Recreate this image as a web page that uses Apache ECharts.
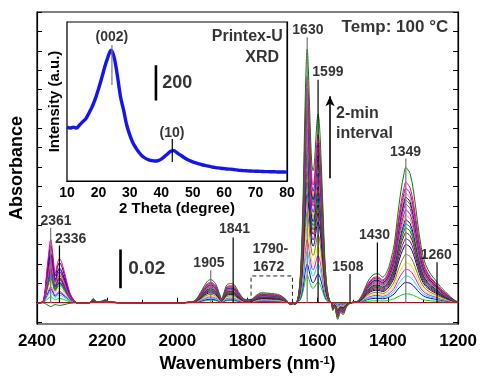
<!DOCTYPE html>
<html><head><meta charset="utf-8">
<script src="https://cdn.jsdelivr.net/npm/echarts@6/dist/echarts.min.js"></script>
<style>html,body{margin:0;padding:0;background:#fff}#c{width:480px;height:378px}</style>
</head><body><div id="c"></div>
<script>
// ---- IR spectra: normalized band shapes of the top (last) spectrum ----
const waveCO2 = [2400, 2391, 2381, 2372, 2364, 2361, 2355, 2348, 2341, 2336, 2326, 2315, 2306, 2296, 2287];
const shapeCO2 = [0, 0, 0.05, 0.5, 0.92, 1.0, 0.77, 0.47, 0.64, 0.7, 0.57, 0.33, 0.15, 0.05, 0];
const waveA = [2280, 2250, 2240, 2230, 2215, 2205, 2195, 2150, 2000, 1960, 1947, 1930, 1916, 1905, 1891, 1880, 1874, 1868, 1859, 1848, 1837, 1826, 1806, 1791, 1777, 1760, 1745, 1732, 1715, 1704, 1690, 1678, 1670, 1665, 1655, 1648, 1642, 1637, 1633, 1630, 1627, 1622, 1617, 1613, 1608, 1603, 1599, 1595, 1590, 1585, 1580, 1575, 1570, 1565];
const shapeA = [0, 0, 0.016, 0.004, 0.006, 0.012, 0.004, 0, 0, 0.003, 0.012, 0.05, 0.082, 0.091, 0.074, 0.035, 0.016, 0.035, 0.07, 0.075, 0.07, 0.043, 0.013, 0.012, 0.027, 0.039, 0.038, 0.036, 0.033, 0.027, 0.012, -0.008, -0.004, -0.008, 0.03, 0.15, 0.40, 0.72, 0.93, 1.0, 0.93, 0.72, 0.55, 0.52, 0.58, 0.70, 0.743, 0.70, 0.55, 0.37, 0.18, 0.08, 0.03, 0.005];
const waveB = [1560, 1557, 1552, 1543, 1535, 1528, 1519, 1509, 1495, 1486, 1472, 1458, 1443, 1429, 1415, 1401, 1392, 1382, 1373, 1363, 1354, 1349, 1344, 1337, 1327, 1316, 1305, 1293, 1278, 1264, 1250, 1236, 1222, 1208, 1200];
const shapeB = [0, -0.058, -0.036, -0.124, -0.073, -0.088, -0.036, -0.007, 0.007, 0.012, 0.066, 0.153, 0.204, 0.214, 0.19, 0.24, 0.314, 0.43, 0.628, 0.825, 0.956, 1.0, 0.985, 0.956, 0.825, 0.606, 0.41, 0.285, 0.21, 0.166, 0.117, 0.08, 0.044, 0.015, 0.007];
// per-spectrum band heights (absorbance), 2-min interval, first to last
const peakCO2  = [0, 0.0031, 0.0071, 0.0056, 0.0082, 0.0107, 0.0127, 0.0148, 0.0168, 0.0183, 0.0199, 0.0153, 0.0295, 0.0219, 0.0178, 0.0245, 0.0138, 0.0255, 0.0204, 0.0229, 0.0326, -0.002];
const peak1630 = [0, 0.0143, 0.0199, 0.0265, 0.0326, 0.0387, 0.0469, 0.0560, 0.0622, 0.0678, 0.0723, 0.0764, 0.0805, 0.0851, 0.0897, 0.0958, 0.0993, 0.1024, 0.1060, 0.1105, 0.1167, 0.1309];
const peak1349 = [0, 0.0046, 0.0105, 0.0138, 0.0173, 0.0207, 0.0250, 0.0301, 0.0331, 0.0362, 0.0387, 0.0408, 0.0428, 0.0453, 0.0479, 0.0509, 0.0530, 0.0545, 0.0565, 0.0591, 0.0622, 0.0698];
const specColors = ['#FF0000','#00DD00','#0000FF','#00E5FF','#FF00FF','#E8E800','#808000','#000080','#800080','#800000','#008000','#008080','#0000A0','#FF8000','#8000FF','#FF0080','#008080','#000080','#FF8000','#8000FF','#FF0080','#008000'];

// ---- peak annotations ----
const annText = ['1630','1599','1349','1430','1260','1508','1905','1841','2361','2336','1790-','1672'];
const annWave = [1628, 1571, 1350, 1438, 1262, 1514, 1910, 1837, 2346, 2304, 1735, 1740];
const annAbs  = [0.1406, 0.1192, 0.0779, 0.0346, 0.0245, 0.0183, 0.0204, 0.0377, 0.0423, 0.0326, 0.0275, 0.0183];
const markWave = [1630, 1599, 1349, 1430, 1260, 1508, 1905, 1841, 2361, 2336];
const markTop  = [0.137, 0.1151, 0.0744, 0.0311, 0.0209, 0.0148, 0.0168, 0.0336, 0.0387, 0.0295];
const markColor= ['#777','#000','#777','#000','#000','#000','#777','#000','#777','#000'];

// ---- XRD inset ----
const xrdTheta = [10,11,12,13,14,15,16,17,18,19,20,21,22,23,24,25,26,27,28,29,30,31,32,33,34,35,36,37,38,39,40,41,42,43,44,45,46,47,48,49,50,51,52,53,54,55,56,57,58,59,60,61,62,63,64,65,66,67,68,69,70,71,72,73,74,75,76,77,78,79,80];
const xrdIntensity = [306,300,305,300,317,335,352,385,420,465,520,580,645,700,740,700,600,480,402,317,260,215,185,160,140,128,120,115,113,116,124,138,153,168,172,160,148,136,125,116,108,102,97,92,88,84,80,77,74,72,70,68,67,65,63,60,59,58,57,56,55,55,54,53,53,52,52,51,51,51,50];

const xTicks = [2400, 2200, 2000, 1800, 1600, 1400, 1200];
const yTickVals = [-0.01,0,0.01,0.02,0.03,0.04,0.05,0.06,0.07,0.08,0.09,0.10,0.11,0.12,0.13,0.14,0.15];

const chart = echarts.init(document.getElementById('c'), null, {renderer:'canvas'});
const series = [];
function spectrum(k){
  const d = [];
  waveCO2.forEach((w,i)=>d.push([w, shapeCO2[i]*peakCO2[k]]));
  waveA.forEach((w,i)=>d.push([w, shapeA[i]*peak1630[k]]));
  waveB.forEach((w,i)=>d.push([w, shapeB[i]*peak1349[k]]));
  return d;
}
const order = [];
for (let k=1;k<peak1630.length;k++) order.push(k);
order.push(0);
order.forEach(k=>{
  series.push({type:'line', xAxisIndex:0, yAxisIndex:0, data:spectrum(k), showSymbol:false, symbol:'none',
    smooth:0.35, lineStyle:{color:specColors[k], width:1}, itemStyle:{color:specColors[k]}, z:2+ (k===0?1:0), animation:false});
});
markWave.forEach((w,i)=>{
  series.push({type:'line', xAxisIndex:0, yAxisIndex:0, data:[[w,0],[w,markTop[i]]], symbol:'none',
    lineStyle:{color:markColor[i], width:1.2}, z:5, animation:false});
});
// dashed box 1790-1672
series.push({type:'line', xAxisIndex:0, yAxisIndex:0, data:[[1790,0],[1790,0.0138],[1672,0.0138],[1672,0]], symbol:'none',
  lineStyle:{color:'#222', width:1, type:[4,3]}, z:5, animation:false});
// scale bar 0.02 and arrow
series.push({type:'line', xAxisIndex:0, yAxisIndex:0, data:[[2162,0.0074],[2162,0.0274]], symbol:'none',
  lineStyle:{color:'#000', width:2.6}, z:5, animation:false,
  markLine:{silent:true, symbol:['none','arrow'], symbolSize:[7,10], label:{show:false},
    lineStyle:{color:'#000', width:1.6, type:'solid'},
    data:[[{coord:[1565,0.0642]},{coord:[1565,0.1065]}]]}});
const ff = 'Liberation Sans, Arial, sans-serif';
const labFont = {fontSize:14, fontWeight:'bold', color:'#000', fontFamily:ff};
function textItem(t, w, y, extra){
  return {value:[w,y], label:Object.assign({show:true, position:'inside', formatter:t}, labFont, extra||{})};
}
const mainTexts = annText.map((t,i)=>textItem(t, annWave[i], annAbs[i]));
mainTexts.push(textItem('2-min', 1548, 0.0978, {fontSize:16, position:'right', distance:0}));
mainTexts.push(textItem('interval', 1548, 0.0871, {fontSize:16, position:'right', distance:0}));
mainTexts.push(textItem('Temp: 100 \u00B0C', 1228, 0.1421, {fontSize:17, position:'left', distance:0}));
mainTexts.push(textItem('0.02', 2140, 0.0173, {fontSize:19, position:'right', distance:0}));
series.push({type:'scatter', xAxisIndex:0, yAxisIndex:0, data:mainTexts, symbolSize:0.1, itemStyle:{color:'rgba(0,0,0,0)'}, z:6, animation:false});

// inset
series.push({type:'line', xAxisIndex:2, yAxisIndex:2, data:xrdTheta.map((t,i)=>[t,xrdIntensity[i]]), symbol:'none', smooth:0.3,
  lineStyle:{color:'#1414F0', width:3.4}, z:10, animation:false});
series.push({type:'line', xAxisIndex:2, yAxisIndex:2, data:[[24.3,543],[24.3,770]], symbol:'none', lineStyle:{color:'#777', width:1.2}, z:11, animation:false});
series.push({type:'line', xAxisIndex:2, yAxisIndex:2, data:[[43.5,108],[43.5,238]], symbol:'none', lineStyle:{color:'#000', width:1.2}, z:11, animation:false});
series.push({type:'line', xAxisIndex:2, yAxisIndex:2, data:[[38.3,455],[38.3,655]], symbol:'none', lineStyle:{color:'#000', width:2.6}, z:11, animation:false});
const insetTexts = [
  textItem('(002)', 24.3, 815),
  textItem('(10)', 43.4, 272),
  textItem('Printex-U', 78.7, 815, {fontSize:16, position:'left', distance:0}),
  textItem('XRD', 77.5, 696, {fontSize:16, position:'left', distance:0}),
  textItem('200', 40.3, 555, {fontSize:18, position:'right', distance:0})
];
series.push({type:'scatter', xAxisIndex:2, yAxisIndex:2, data:insetTexts, symbolSize:0.1, itemStyle:{color:'rgba(0,0,0,0)'}, z:12, animation:false});

const axisLineBlack = {show:true, lineStyle:{color:'#000', width:1.2}};
const plain = v => String(v);
const option = {
  animation:false,
  backgroundColor:'#fff',
  grid:[
    {left:37, right:19, top:12, bottom:50, show:true, borderColor:'#000', borderWidth:1.2, backgroundColor:'#fff'},
    {left:67, top:22, width:220, height:159, show:true, borderColor:'#000', borderWidth:1.2, backgroundColor:'#fff', z:8}
  ],
  xAxis:[
    {gridIndex:0, type:'value', inverse:true, min:1200, max:2400, interval:200, axisLine:axisLineBlack,
     axisTick:{inside:true, length:5, lineStyle:{color:'#000'}}, minorTick:{show:true, splitNumber:2, length:3, lineStyle:{color:'#000'}},
     splitLine:{show:false}, axisLabel:{fontSize:17, fontWeight:'bold', color:'#000', margin:9, fontFamily:ff, formatter:plain},
     name:'Wavenumbers (nm{s|-1})', nameLocation:'middle', nameGap:31,
     nameTextStyle:{fontSize:18, fontWeight:'bold', color:'#000', fontFamily:ff, rich:{s:{fontSize:11, fontWeight:'bold', color:'#000', verticalAlign:'top', fontFamily:ff}}}},
    {gridIndex:0, type:'value', inverse:true, min:1200, max:2400, interval:200, position:'top', axisLine:axisLineBlack,
     axisTick:{show:false}, axisLabel:{show:false}, splitLine:{show:false}},
    {gridIndex:1, type:'value', min:10, max:80, interval:10, axisLine:axisLineBlack,
     axisTick:{inside:true, length:4, lineStyle:{color:'#000'}}, minorTick:{show:true, splitNumber:2, length:2, lineStyle:{color:'#000'}},
     splitLine:{show:false}, axisLabel:{fontSize:14, fontWeight:'bold', color:'#000', margin:5, fontFamily:ff, formatter:plain},
     name:'2 Theta (degree)', nameLocation:'middle', nameGap:20, nameTextStyle:{fontSize:15, fontWeight:'bold', color:'#000', fontFamily:ff}},
    {gridIndex:1, type:'value', min:10, max:80, interval:10, position:'top', axisLine:axisLineBlack,
     axisTick:{show:false}, axisLabel:{show:false}, splitLine:{show:false}}
  ],
  yAxis:[
    {gridIndex:0, type:'value', min:-0.011, max:0.15, axisLine:axisLineBlack,
     axisTick:{inside:true, length:5, customValues:yTickVals, lineStyle:{color:'#000'}}, axisLabel:{show:false}, splitLine:{show:false},
     name:'Absorbance', nameLocation:'middle', nameGap:11, nameTextStyle:{fontSize:18, fontWeight:'bold', color:'#000', fontFamily:ff}},
    {gridIndex:0, type:'value', min:-0.011, max:0.15, position:'right', axisLine:axisLineBlack,
     axisTick:{inside:true, length:5, customValues:yTickVals, lineStyle:{color:'#000'}}, axisLabel:{show:false}, splitLine:{show:false}},
    {gridIndex:1, type:'value', min:0, max:900, interval:100, axisLine:axisLineBlack,
     axisTick:{inside:true, length:4, lineStyle:{color:'#000'}}, axisLabel:{show:false}, splitLine:{show:false},
     name:'Intensity (a.u.)', nameLocation:'middle', nameGap:5, nameTextStyle:{fontSize:15, fontWeight:'bold', color:'#000', fontFamily:ff}},
    {gridIndex:1, type:'value', min:0, max:900, interval:100, position:'right', axisLine:axisLineBlack,
     axisTick:{inside:true, length:4, lineStyle:{color:'#000'}}, axisLabel:{show:false}, splitLine:{show:false}}
  ],
  series: series
};
chart.setOption(option);
</script></body></html>
